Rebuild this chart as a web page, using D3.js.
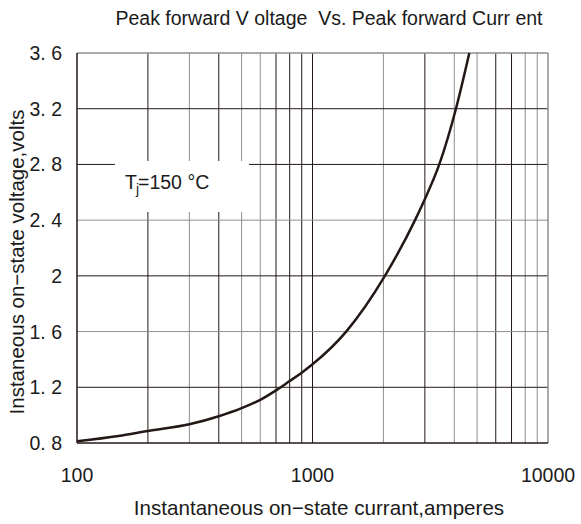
<!DOCTYPE html>
<html lang="en">
<head>
<meta charset="utf-8">
<script src="https://d3js.org/d3.v7.min.js"></script>
<style>
  body { margin: 0; background: #ffffff; }
  svg text { font-family: "Liberation Sans", Arial, sans-serif; fill: #1a1a1a; white-space: pre; }
</style>
</head>
<body>
<script>
// curve (amperes, volts)
var current = [100, 150, 200, 300, 400, 500, 600, 700, 800, 900, 1000, 1390, 2030, 2725, 2985, 3454, 4066, 4634];
var voltage = [0.812, 0.85, 0.886, 0.934, 0.992, 1.05, 1.11, 1.178, 1.245, 1.305, 1.365, 1.6, 2.0, 2.4, 2.543, 2.8, 3.2, 3.6];

// tick labels
var xTickValues = [100, 1000, 10000];
var xTickLabels = ["100", "1000", "10000"];
var yTickValues = [0.8, 1.2, 1.6, 2.0, 2.4, 2.8, 3.2, 3.6];
var yTickLabels = ["0. 8", "1. 2", "1. 6", "2", "2. 4", "2. 8", "3. 2", "3. 6"];

// grid lines that are printed lighter in the original
var grayX = [300, 500, 600, 2000, 4000, 5000, 8000, 9000];
var grayY = [1.6, 2.4];

var W = 581, H = 524;
var dark = "#231816", gray = "#8e8e8e";

var x = d3.scaleLog().domain([100, 10000]).range([77, 548]);
var y = d3.scaleLinear().domain([0.8, 3.6]).range([443, 53]);

var svg = d3.select("body").append("svg")
    .attr("width", W)
    .attr("height", H);

svg.append("rect").attr("width", W).attr("height", H).attr("fill", "#fff");

// vertical grid
var xGrid = x.ticks().filter(function(d) { return d > 100 && d < 10000; });
svg.append("g").selectAll("line")
    .data(xGrid)
  .enter().append("line")
    .attr("x1", function(d) { return x(d); })
    .attr("x2", function(d) { return x(d); })
    .attr("y1", y(0.8))
    .attr("y2", y(3.6))
    .attr("stroke", function(d) { return grayX.indexOf(d) >= 0 ? gray : dark; })
    .attr("stroke-width", 1);

// horizontal grid
svg.append("g").selectAll("line")
    .data(yTickValues.filter(function(d) { return d > 0.8 && d < 3.6; }))
  .enter().append("line")
    .attr("x1", x(100))
    .attr("x2", x(10000))
    .attr("y1", function(d) { return y(d); })
    .attr("y2", function(d) { return y(d); })
    .attr("stroke", function(d) { return grayY.indexOf(d) >= 0 ? gray : dark; })
    .attr("stroke-width", 1);

// frame: top and right lighter
svg.append("line").attr("x1", x(100)).attr("x2", x(10000)).attr("y1", y(3.6)).attr("y2", y(3.6))
    .attr("stroke", gray).attr("stroke-width", 1.5);
svg.append("line").attr("x1", x(10000)).attr("x2", x(10000)).attr("y1", y(3.6)).attr("y2", y(0.8))
    .attr("stroke", gray).attr("stroke-width", 1.5);
svg.append("line").attr("x1", x(100)).attr("x2", x(100)).attr("y1", y(3.6)).attr("y2", y(0.8))
    .attr("stroke", dark).attr("stroke-width", 1.5);
svg.append("line").attr("x1", x(100)).attr("x2", x(10000)).attr("y1", y(0.8)).attr("y2", y(0.8))
    .attr("stroke", dark).attr("stroke-width", 1.5);

// white box for the temperature note
svg.append("rect")
    .attr("x", 115).attr("y", 161)
    .attr("width", 134).attr("height", 51)
    .attr("fill", "#fff");

var note = svg.append("text")
    .attr("x", 125).attr("y", 189)
    .style("font-size", "19.5px");
note.append("tspan").text("T");
note.append("tspan").attr("dy", 5).attr("dx", -1).style("font-size", "14px").text("j");
note.append("tspan").attr("dy", -5).attr("dx", -1).text("=150 \u00b0C");

// curve
var pts = current.map(function(d, i) { return [d, voltage[i]]; });
var line = d3.line()
    .x(function(d) { return x(d[0]); })
    .y(function(d) { return y(d[1]); })
    .curve(d3.curveMonotoneX);

svg.append("path")
    .datum(pts)
    .attr("d", line)
    .attr("fill", "none")
    .attr("stroke", dark)
    .attr("stroke-width", 2.5);

// tick labels
svg.append("g").selectAll("text")
    .data(yTickValues)
  .enter().append("text")
    .attr("x", 62)
    .attr("y", function(d) { return y(d) + 7; })
    .attr("text-anchor", "end")
    .style("font-size", "19.5px")
    .text(function(d, i) { return yTickLabels[i]; });

svg.append("g").selectAll("text")
    .data(xTickValues)
  .enter().append("text")
    .attr("x", function(d) { return x(d); })
    .attr("y", 482)
    .attr("text-anchor", "middle")
    .style("font-size", "19.5px")
    .text(function(d, i) { return xTickLabels[i]; });

// titles
svg.append("text")
    .attr("x", 329).attr("y", 25)
    .attr("text-anchor", "middle")
    .style("font-size", "19.5px")
    .text("Peak forward V oltage  Vs. Peak forward Curr ent");

svg.append("text")
    .attr("x", 319).attr("y", 515)
    .attr("text-anchor", "middle")
    .style("font-size", "20.6px")
    .text("Instantaneous on\u2212state currant,amperes");

svg.append("text")
    .attr("transform", "translate(24,262) rotate(-90)")
    .attr("text-anchor", "middle")
    .style("font-size", "20.5px")
    .text("Instaneous on\u2212state voltage,volts");
</script>
</body>
</html>
